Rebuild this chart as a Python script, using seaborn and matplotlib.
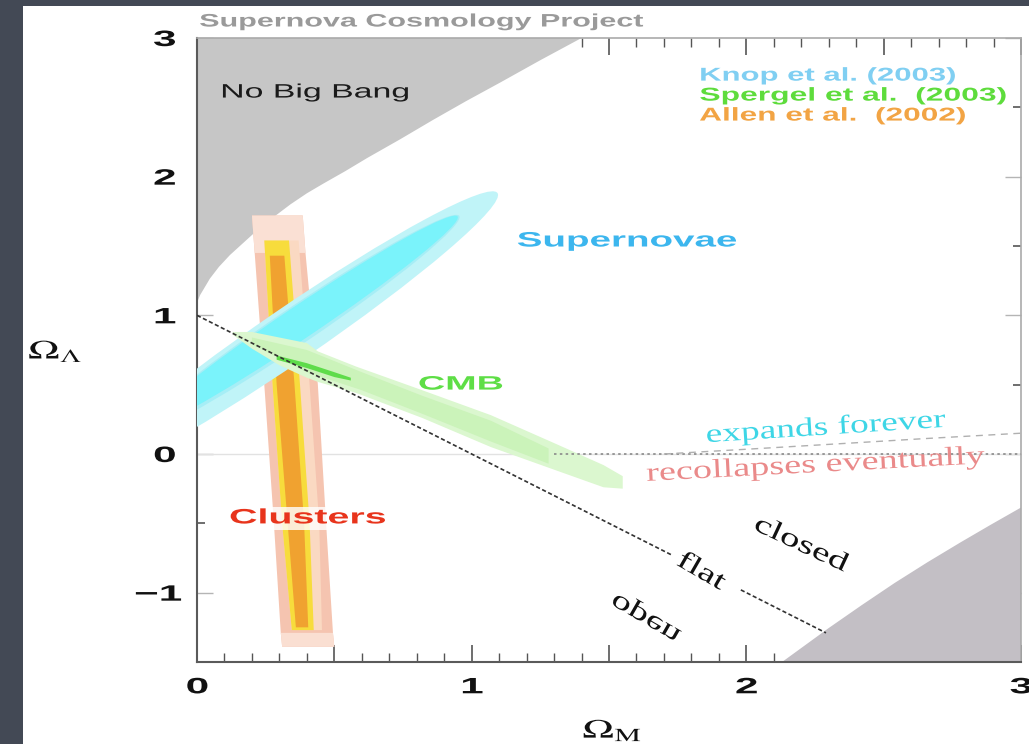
import numpy as np
import pandas as pd
import matplotlib
matplotlib.use("Agg")
import matplotlib.pyplot as plt
import matplotlib.transforms as mtransforms
from matplotlib.patches import Ellipse, Rectangle
from matplotlib.patheffects import AbstractPathEffect
from matplotlib.ticker import MultipleLocator, FuncFormatter
import seaborn as sns

# ---------------- values ----------------
# "No Big Bang" boundary (Omega_M, Omega_Lambda)
nbb_om = [0.0, 0.011, 0.047, 0.08, 0.12, 0.17, 0.22, 0.28, 0.34, 0.40, 0.46,
          0.54, 0.62, 0.74, 0.86, 0.98, 1.105, 1.25, 1.40]
nbb_ol = [1.09, 1.145, 1.265, 1.35, 1.435, 1.525, 1.615, 1.71, 1.80, 1.88, 1.95,
          2.04, 2.135, 2.27, 2.41, 2.545, 2.68, 2.84, 3.0]
# lower-right excluded region
lr_om = [2.13, 2.30, 2.42, 2.54, 2.66, 2.78, 2.89, 3.0]
lr_ol = [-1.5, -1.255, -1.09, -0.93, -0.78, -0.637, -0.51, -0.386]
# flat-universe line (two pieces, gap for the "flat" label)
flat1_om = [0.0, 1.73]
flat1_ol = [1.0, -0.73]
flat2_om = [1.98, 2.29]
flat2_ol = [-0.98, -1.29]
# expands / recollapses boundary
rc_om = [1.70, 2.05, 2.39, 2.64, 3.0]
rc_ol = [0.0, 0.04, 0.08, 0.11, 0.15]
dot_om = [1.30, 3.0]
dot_ol = [0.0, 0.0]

# Supernovae confidence ellipses (outer, middle, inner)
sn_cx = [0.339, 0.362, 0.372]
sn_cy = [0.858, 0.925, 0.945]
sn_major = [1.83, 1.43, 1.39]
sn_minor = [0.197, 0.135, 0.118]
sn_angle = [34.4, 34.0, 33.9]

# CMB band
cmb_om = [0.13, 0.20, 0.30, 0.40, 0.44, 0.58, 0.82, 1.07, 1.31, 1.48, 1.55]
cmb_hi = [0.88, 0.88, 0.84, 0.80, 0.74, 0.63, 0.46, 0.28, 0.07, -0.08, -0.16]
cmb_lo = [0.86, 0.76, 0.64, 0.55, 0.52, 0.44, 0.26, 0.05, -0.12, -0.24, -0.25]
cmb_mid_om = [0.20, 0.40, 0.60, 0.82, 1.07, 1.28]
cmb_mid_hi = [0.84, 0.75, 0.59, 0.42, 0.24, 0.04]
cmb_mid_lo = [0.79, 0.59, 0.46, 0.29, 0.09, -0.07]
cmb_in_om = [0.29, 0.40, 0.50, 0.56]
cmb_in_hi = [0.71, 0.655, 0.59, 0.55]
cmb_in_lo = [0.68, 0.62, 0.555, 0.53]

# Clusters band (edges given at Omega_Lambda levels)
cl_lev = [1.72, 1.45, 0.5, -0.5, -1.29, -1.39]
cl_out_l = [0.200, 0.210, 0.245, 0.280, 0.305, 0.310]
cl_out_r = [0.385, 0.395, 0.440, 0.470, 0.495, 0.500]
cl_y_lev = [1.54, 0.5, -0.5, -1.27]
cl_y_l = [0.245, 0.275, 0.310, 0.345]
cl_y_r = [0.335, 0.375, 0.410, 0.425]
cl_p_r = [0.370, 0.410, 0.445, 0.455]
cl_o_lev = [1.43, 0.5, -0.5, -1.25]
cl_o_l = [0.265, 0.290, 0.330, 0.360]
cl_o_r = [0.318, 0.355, 0.390, 0.405]

x_ticks = [0, 1, 2, 3]
y_ticks = [-1, 0, 1, 2, 3]


class HStretch(AbstractPathEffect):
    """Stretch glyphs horizontally (and optionally mirror) about their centre."""
    def __init__(self, k, ky=1.0):
        super().__init__((0.0, 0.0))
        self.k = k
        self.ky = ky

    def draw_path(self, renderer, gc, tpath, affine, rgbFace=None):
        v = tpath.vertices
        if len(v):
            cx = 0.5 * (v[:, 0].min() + v[:, 0].max())
            cy = 0.5 * (v[:, 1].min() + v[:, 1].max())
        else:
            cx = cy = 0.0
        pre = (mtransforms.Affine2D().translate(-cx, -cy)
               .scale(self.k, self.ky).translate(cx, cy))
        renderer.draw_path(gc, tpath, pre + affine, rgbFace)


sns.set_theme(style="white")
plt.rcParams['font.family'] = ['Liberation Sans', 'DejaVu Sans']
plt.rcParams['mathtext.fontset'] = 'stix'

fig = plt.figure(figsize=(10.29, 7.44), dpi=100, facecolor='#434955')
fig.patches.append(Rectangle((23 / 1029, 0), 1, 1 - 6 / 744,
                             transform=fig.transFigure, facecolor='white',
                             edgecolor='none', zorder=-5))
ax = fig.add_axes([197 / 1029, 1 - 662 / 744, 824 / 1029, 624 / 744])
ax.set_facecolor('white')

# excluded regions
ax.fill([0.0] + nbb_om, [3.0] + nbb_ol, color='#c6c6c6', lw=0, zorder=1)
ax.fill(lr_om + [3.0], lr_ol + [-1.5], color='#c3bfc5', lw=0, zorder=1)

# Omega_Lambda = 0 reference line
ax.axhline(0, color='#e2e2e2', lw=1.0, zorder=1.2)


def band(lev, left, right, color, z):
    ax.fill(list(left) + list(right)[::-1], list(lev) + list(lev)[::-1],
            color=color, lw=0, zorder=z)


# clusters
band(cl_lev, cl_out_l, cl_out_r, '#f5c4b0', 2.0)
band(cl_lev[:2], cl_out_l[:2], cl_out_r[:2], '#fae0d4', 2.01)
band(cl_lev[-2:], cl_out_l[-2:], cl_out_r[-2:], '#fadfd2', 2.01)
band(cl_y_lev, cl_y_l, cl_p_r, '#fad9c2', 2.1)
band(cl_y_lev, cl_y_l, cl_y_r, '#f7dc3c', 2.2)
band(cl_o_lev, cl_o_l, cl_o_r, '#f0a230', 2.3)

# supernovae ellipses
pos = ax.get_position()
wpx = pos.width * fig.get_figwidth() * fig.dpi
hpx = pos.height * fig.get_figheight() * fig.dpi
s = (hpx / 4.5) / (wpx / 3.0)
etrans = mtransforms.Affine2D().scale(1.0, 1.0 / s) + ax.transData
for cx, cy, ma, mi, an, col in zip(sn_cx, sn_cy, sn_major, sn_minor, sn_angle,
                                   ['#c0f4f8', '#a6eef6', '#7af3fb']):
    ax.add_patch(Ellipse((cx, cy * s), ma, mi, angle=an, transform=etrans,
                         facecolor=col, edgecolor='none', zorder=3))

# CMB
ax.fill(cmb_om + cmb_om[::-1], cmb_hi + cmb_lo[::-1], color='#dbf7cf', lw=0, zorder=4)
ax.fill(cmb_mid_om + cmb_mid_om[::-1], cmb_mid_hi + cmb_mid_lo[::-1],
        color='#cbf3ba', lw=0, zorder=4.1)
ax.fill(cmb_in_om + cmb_in_om[::-1], cmb_in_hi + cmb_in_lo[::-1],
        color='#5edc4a', lw=0, zorder=4.2)

# lines
sns.lineplot(x=flat1_om, y=flat1_ol, ax=ax, color='#333333', lw=1.2,
             sort=False, estimator=None, zorder=5)
ax.lines[-1].set_linestyle((0, (2.5, 1.5)))
sns.lineplot(x=flat2_om, y=flat2_ol, ax=ax, color='#333333', lw=1.2,
             sort=False, estimator=None, zorder=5)
ax.lines[-1].set_linestyle((0, (2.5, 1.5)))
sns.lineplot(x=dot_om, y=dot_ol, ax=ax, color='#8a8a8a', lw=1.2,
             sort=False, estimator=None, zorder=5)
ax.lines[-1].set_linestyle((0, (1.5, 2.0)))
sns.lineplot(x=rc_om, y=rc_ol, ax=ax, color='#b0b0b0', lw=1.0,
             sort=False, estimator=None, zorder=5)
ax.lines[-1].set_linestyle((0, (5, 4)))

# white box behind the Clusters label
ax.add_patch(Rectangle((0.084, -0.548), 0.649, 0.166, facecolor='white',
                       edgecolor='none', alpha=0.8, zorder=5.5))


def stext(x, y, txt, k, size, color, weight='normal', family=None,
          rotation=0, ky=1.0, transform=None):
    t = ax.text(x, y, txt, fontsize=size, color=color, fontweight=weight,
                rotation=rotation, ha='center', va='center',
                rotation_mode='anchor', zorder=6,
                transform=transform if transform is not None else ax.transData)
    if family:
        t.set_family(family)
    t.set_path_effects([HStretch(k, ky)])
    return t


serif = ['Liberation Serif', 'DejaVu Serif']
stext(0.430, 2.603, 'No Big Bang', 1.74, 14, '#1a1a1a')
stext(2.295, 2.725, 'Knop et al. (2003)', 1.67, 13.4, '#80cff2', 'bold')
stext(2.388, 2.581, 'Spergel et al.  (2003)', 1.71, 13.4, '#5edc3c', 'bold')
stext(2.313, 2.437, 'Allen et al.  (2002)', 1.70, 13.4, '#f2a444', 'bold')
stext(1.566, 1.536, 'Supernovae', 1.85, 15, '#3cb6ee', 'bold')
stext(0.959, 0.497, 'CMB', 1.94, 14, '#5ede46', 'bold')
stext(0.403, -0.461, 'Clusters', 1.89, 15, '#e8341c', 'bold')
stext(2.289, 0.187, 'expands forever', 1.42, 19, '#3ed6e6', family=serif, rotation=3.7)
stext(2.253, -0.087, 'recollapses eventually', 1.45, 19, '#ea8a8a', family=serif, rotation=3.0)
stext(2.198, -0.656, 'closed', 1.5, 19, '#111111', family=serif, rotation=-25)
stext(1.834, -0.851, 'flat', 1.48, 19, '#111111', family=serif, rotation=-30)
stext(1.644, -1.146, 'open', 1.5, 19, '#111111', family=serif, rotation=-30, ky=-1.0)
stext(421 / 1029, 1 - 22 / 744, 'Supernova Cosmology Project', 1.69, 13,
      '#9a9a9a', 'bold', transform=fig.transFigure)

# axes, ticks
ax.set_xlim(0, 3)
ax.set_ylim(-1.5, 3)
ax.xaxis.set_major_locator(MultipleLocator(0.5))
ax.xaxis.set_minor_locator(MultipleLocator(0.1))
ax.yaxis.set_major_locator(MultipleLocator(1.0))
ax.yaxis.set_minor_locator(MultipleLocator(0.5))
ax.xaxis.set_major_formatter(FuncFormatter(
    lambda v, p: f"{int(round(v))}" if abs(v - round(v)) < 1e-6 and int(round(v)) in x_ticks else ""))
ax.yaxis.set_major_formatter(FuncFormatter(
    lambda v, p: (f"{int(round(v))}".replace('-', '\u2212')) if int(round(v)) in y_ticks else ""))

ax.tick_params(axis='x', which='major', direction='in', length=12, width=1.2,
               color='#555555', top=True, bottom=True, pad=11, labelsize=16,
               labelcolor='#111111')
ax.tick_params(axis='x', which='minor', direction='in', length=6.5, width=1.0,
               color='#555555', top=True, bottom=True)
ax.tick_params(axis='y', which='major', direction='in', length=11.5, width=1.0,
               color='#b5b5b5', left=True, right=True, pad=19, labelsize=16,
               labelcolor='#111111')
ax.tick_params(axis='y', which='minor', direction='in', length=5.8, width=1.2,
               color='#555555', left=True, right=True)

for lab in ax.get_xticklabels() + ax.get_yticklabels():
    lab.set_fontweight('bold')
    lab.set_path_effects([HStretch(1.9)])

for side in ['left', 'bottom']:
    ax.spines[side].set_color('#5a5a5a')
    ax.spines[side].set_linewidth(1.5)
for side in ['top', 'right']:
    ax.spines[side].set_color('#aaaaaa')
    ax.spines[side].set_linewidth(1.2)

ax.set_xlabel(r'$\Omega_{\mathrm{M}}$', fontsize=19, color='#111111')
ax.xaxis.label.set_va('center')
ax.xaxis.set_label_coords(0.504, -0.1106)
ax.xaxis.label.set_path_effects([HStretch(1.6)])
ax.set_ylabel(r'$\Omega_\Lambda$', fontsize=19, color='#111111', rotation=0)
ax.yaxis.label.set_ha('center')
ax.yaxis.label.set_va('center')
ax.yaxis.set_label_coords(-0.172, 0.497)
ax.yaxis.label.set_path_effects([HStretch(1.6)])

fig.savefig('out.png', dpi=100, facecolor=fig.get_facecolor())
